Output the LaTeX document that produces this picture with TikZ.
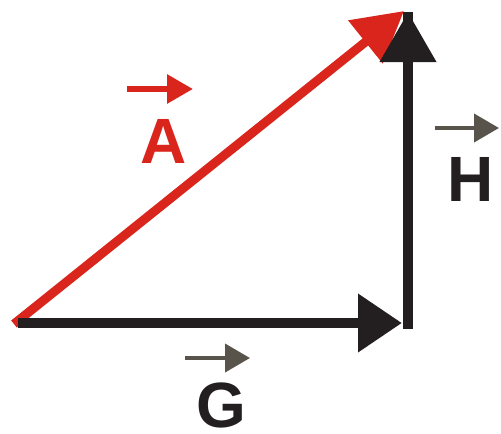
\documentclass[tikz,border=0pt]{standalone}
\usepackage{fontspec}
\setmainfont{Liberation Sans}
\usetikzlibrary{arrows.meta}
\definecolor{vred}{HTML}{DA251D}
\definecolor{vblk}{HTML}{231F20}
\definecolor{vgray}{HTML}{58544B}
\begin{document}
\begin{tikzpicture}[x=1pt,y=-1pt,
  redvec/.style={draw=vred,fill=vred,line width=9pt,-{Triangle[length=49.5pt,width=53pt]}},
  hvec/.style={draw=vblk,fill=vblk,line width=10.5pt,-{Triangle[length=44pt,width=56pt]}},
  vvec/.style={draw=vblk,fill=vblk,line width=10.5pt,-{Triangle[length=50pt,width=54pt]}},
  shaft/.style={draw=vblk,line width=10.5pt},
  lbl/.style={font=\fontsize{64}{64}\bfseries\selectfont,inner sep=0pt,anchor=base},
  redmark/.style={draw=vred,fill=vred,line width=6pt,-{Triangle[length=26pt,width=28pt]}},
  graymark/.style={draw=vgray,fill=vgray,line width=4pt,-{Triangle[length=25pt,width=28pt]}}]
\useasboundingbox (0,0) rectangle (501,434);
% points
\coordinate (O) at (14,324);
\coordinate (RT) at (404,11);
\coordinate (HS) at (18,323);
\coordinate (HE) at (402,323);
\coordinate (VS) at (408,328.5);
\coordinate (VE) at (408,12);
% main vectors
\draw[redvec] (O) -- (RT);
\draw[hvec] (HS) -- (HE);
\draw[vvec] (VS) -- (VE);
\draw[shaft] (VS) -- (VE);
% labels
\node[lbl,text=vred] (A) at (164,163) {A};
\node[lbl,text=vblk] (H) at (471,201) {H};
\node[lbl,text=vblk] (G) at (221.5,427.5) {G};
% vector marks
\coordinate (a1) at (127,89);
\coordinate (a2) at (193,89);
\coordinate (h1) at (435,128);
\coordinate (h2) at (499,128);
\coordinate (g1) at (185,358);
\coordinate (g2) at (250,358);
\draw[redmark] (a1) -- (a2);
\draw[graymark] (h1) -- (h2);
\draw[graymark] (g1) -- (g2);
\end{tikzpicture}
\end{document}
